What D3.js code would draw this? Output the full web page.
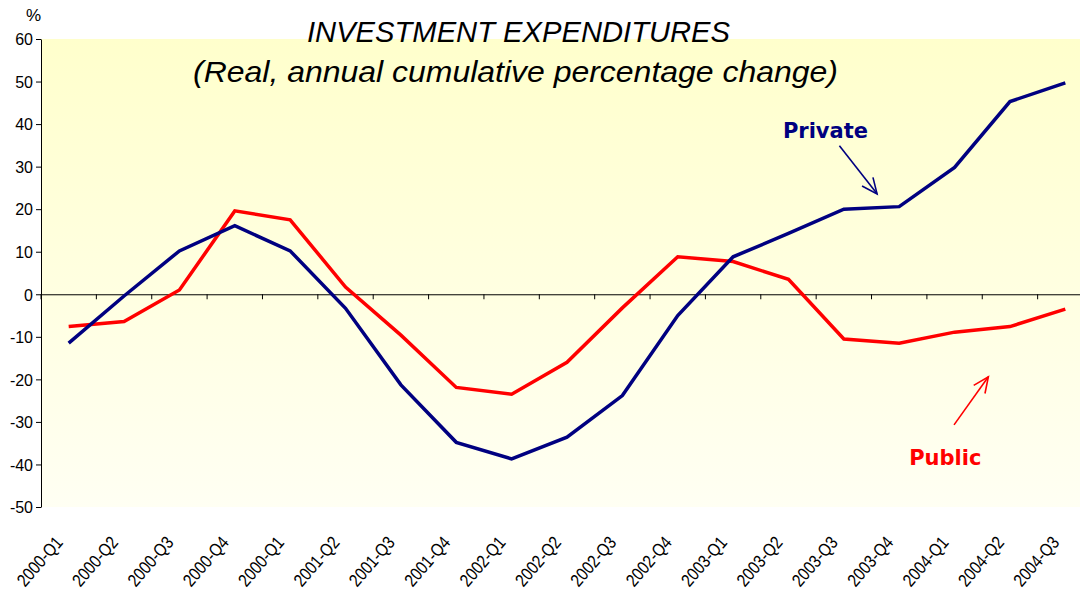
<!DOCTYPE html>
<html>
<head>
<meta charset="utf-8">
<script src="https://cdn.jsdelivr.net/npm/d3@7"></script>
<style>
  body { margin: 0; background: #fff; }
  svg { display: block; }
</style>
</head>
<body>
<div id="chart"></div>
<script>
// quarters on the x axis (labels as printed on the original)
let quarters = ['2000-Q1', '2000-Q2', '2000-Q3', '2000-Q4', '2000-Q1 ', '2001-Q2', '2001-Q3', '2001-Q4',
    '2002-Q1', '2002-Q2', '2002-Q3', '2002-Q4', '2003-Q1', '2003-Q2', '2003-Q3', '2003-Q4',
    '2004-Q1', '2004-Q2', '2004-Q3'];

// real, annual cumulative percentage change
let privateInv = [-11.5, -0.4, 10.2, 16.1, 10.2, -3.3, -21.3, -34.8, -38.7, -33.6, -23.8, -5.0,
    8.8, 14.3, 20.0, 20.6, 29.8, 45.3, 49.7];
let publicInv = [-7.6, -6.4, 1.0, 19.6, 17.5, 1.7, -9.6, -21.9, -23.5, -16.0, -3.2, 8.8,
    7.7, 3.5, -10.5, -11.5, -8.9, -7.6, -3.5];

let yTicks = [60, 50, 40, 30, 20, 10, 0, -10, -20, -30, -40, -50];

let svgwidth = 1080;
let svgheight = 592;

let margin = { top: 39, right: -13, bottom: 85, left: 41 };
let width = svgwidth - margin.left - margin.right;
let height = svgheight - margin.top - margin.bottom;

let svg = d3.select('#chart').append('svg')
    .attr('width', svgwidth)
    .attr('height', svgheight);

// background gradient of plot area
let defs = svg.append('defs');
let grad = defs.append('linearGradient')
    .attr('id', 'bg')
    .attr('x1', 0).attr('y1', 0).attr('x2', 0).attr('y2', 1);
grad.append('stop').attr('offset', '0%').attr('stop-color', '#ffffcc');
grad.append('stop').attr('offset', '100%').attr('stop-color', '#fffff3');

let chartgroup = svg.append('g')
    .attr('transform', `translate(${margin.left}, ${margin.top})`);

chartgroup.append('rect')
    .attr('width', width)
    .attr('height', height)
    .attr('fill', 'url(#bg)');

let x = d3.scaleBand()
    .domain(quarters)
    .range([0, width]);

let y = d3.scaleLinear()
    .domain([-50, 60])
    .range([height, 0]);

// helper for annotation positions in category units
let xAt = i => x(quarters[0]) + x.bandwidth() / 2 + i * x.step();

let axisFont = 'Liberation Sans, Arial, sans-serif';

// y axis
let yAxis = chartgroup.append('g')
    .call(d3.axisLeft(y).tickValues(yTicks).tickSize(5).tickSizeOuter(0)
        .tickFormat(d => String(d)));
yAxis.select('.domain').attr('stroke', '#000');
yAxis.selectAll('line').attr('stroke', '#000');
yAxis.selectAll('text')
    .attr('font-family', axisFont)
    .attr('font-size', '16px')
    .attr('fill', '#000')
    .attr('x', -8)
    .attr('dy', '0.36em');

chartgroup.append('text')
    .attr('x', -15)
    .attr('y', -18)
    .attr('font-family', axisFont)
    .attr('font-size', '17px')
    .text('%');

// x axis at zero
let xAxis = chartgroup.append('g')
    .attr('transform', `translate(0, ${y(0)})`)
    .call(d3.axisBottom(x).tickSize(5).tickSizeOuter(0).tickFormat(''));
xAxis.select('.domain').attr('stroke', '#000');
xAxis.selectAll('.tick line')
    .attr('stroke', '#000')
    .attr('transform', `translate(${-x.step() / 2}, 0)`);

// x labels rotated at the bottom
chartgroup.selectAll('.xlabel')
    .data(quarters)
    .enter()
    .append('text')
    .classed('xlabel', true)
    .attr('transform', d => `translate(${x(d) + x.bandwidth() / 2 - 5}, ${height + 36}) rotate(-49) scale(0.95, 1.12)`)
    .attr('text-anchor', 'end')
    .attr('font-family', axisFont)
    .attr('font-size', '16px')
    .attr('fill', '#000')
    .text(d => d.trim());

// lines
let line = d3.line()
    .x((d, i) => x(quarters[i]) + x.bandwidth() / 2)
    .y(d => y(d));

chartgroup.append('path')
    .datum(publicInv)
    .attr('fill', 'none')
    .attr('stroke', '#ff0000')
    .attr('stroke-width', 3.5)
    .attr('d', line);

chartgroup.append('path')
    .datum(privateInv)
    .attr('fill', 'none')
    .attr('stroke', '#000080')
    .attr('stroke-width', 3.5)
    .attr('d', line);

// annotations
function arrow(x1, y1, x2, y2, color) {
    let ang = Math.atan2(y2 - y1, x2 - x1);
    let len = 17, spread = 0.42;
    let g = chartgroup.append('g')
        .attr('stroke', color)
        .attr('stroke-width', 1.6)
        .attr('fill', 'none');
    g.append('line').attr('x1', x1).attr('y1', y1).attr('x2', x2).attr('y2', y2);
    g.append('path')
        .attr('d', `M${x2 - len * Math.cos(ang - spread)},${y2 - len * Math.sin(ang - spread)}` +
            `L${x2},${y2}` +
            `L${x2 - len * Math.cos(ang + spread)},${y2 - len * Math.sin(ang + spread)}`);
}

chartgroup.append('text')
    .attr('x', xAt(12.9))
    .attr('y', y(36.7))
    .attr('font-family', 'DejaVu Sans, Verdana, sans-serif')
    .attr('font-weight', 'bold')
    .attr('font-size', '21px')
    .attr('fill', '#000080')
    .text('Private');
arrow(xAt(13.92), y(34.9), xAt(14.6), y(23.6), '#000080');

chartgroup.append('text')
    .attr('x', xAt(15.18))
    .attr('y', y(-40.2))
    .attr('font-family', 'DejaVu Sans, Verdana, sans-serif')
    .attr('font-weight', 'bold')
    .attr('font-size', '21px')
    .attr('fill', '#ff0000')
    .text('Public');
arrow(xAt(15.99), y(-30.7), xAt(16.61), y(-19.4), '#ff0000');

// title
let titleFont = 'Liberation Sans, Arial, sans-serif';
svg.append('text')
    .attr('x', 518.5)
    .attr('y', 42)
    .attr('text-anchor', 'middle')
    .attr('font-family', titleFont)
    .attr('font-style', 'italic')
    .attr('font-size', '29px')
    .attr('fill', '#000')
    .attr('textLength', 423)
    .attr('lengthAdjust', 'spacingAndGlyphs')
    .text('INVESTMENT EXPENDITURES');
svg.append('text')
    .attr('x', 515.5)
    .attr('y', 82)
    .attr('text-anchor', 'middle')
    .attr('font-family', titleFont)
    .attr('font-style', 'italic')
    .attr('font-size', '30px')
    .attr('fill', '#000')
    .attr('textLength', 645)
    .attr('lengthAdjust', 'spacingAndGlyphs')
    .text('(Real, annual cumulative percentage change)');
</script>
</body>
</html>
